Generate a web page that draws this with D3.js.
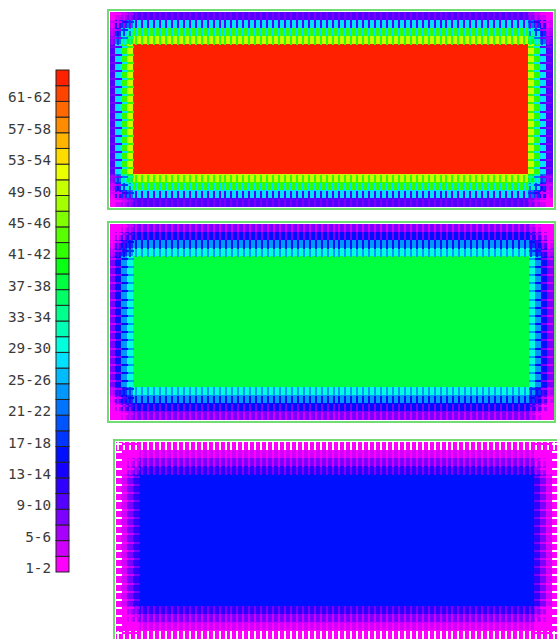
<!DOCTYPE html>
<html><head><meta charset="utf-8">
<script src="https://cdn.jsdelivr.net/npm/d3@7"></script>
<style>body{margin:0;background:#fff;} svg{display:block}</style>
</head><body><svg id="c" width="557" height="639"></svg>
<script>
// ---- data ----
const binLabels = ["1-2","3-4","5-6","7-8","9-10","11-12","13-14","15-16","17-18","19-20","21-22","23-24","25-26","27-28","29-30","31-32","33-34","35-36","37-38","39-40","41-42","43-44","45-46","47-48","49-50","51-52","53-54","55-56","57-58","59-60","61-62","63-64"];
const binColors = ["#ff00ff","#d000ff","#a800ff","#7c00ff","#5400ff","#3000ff","#1400ff","#0010ff","#0034ff","#0054ff","#0074ff","#0098ff","#00bcff","#00e0ff","#00ffdc","#00ffb4","#00ff8c","#00ff64","#00ff40","#08ff14","#30ff00","#58ff00","#80ff00","#a4ff00","#c8ff00","#ecff00","#ffdc00","#ffb400","#ff8c00","#ff6800","#ff4400","#ff2000"];
const shownLabels = ["1-2","5-6","9-10","13-14","17-18","21-22","25-26","29-30","33-34","37-38","41-42","45-46","49-50","53-54","57-58","61-62"];
const binThresholds = [3,5,7,9,11,13,15,17,19,21,23,25,27,29,31,33,35,37,39,41,43,45,47,49,51,53,55,57,59,61,63];
// edge-ring values: [outside, ring1, ring2, ring3, ring4, plateau]
const panel1Ring = [7, 10, 27, 42, 50, 63];
const panel2Ring = [4, 7, 15, 24, 30, 38];
const panel3Ring = [0.5, 1.5, 4, 7, 11, 15];
const panelCols = 74, panelRows = 24;

// ---- layout ----
const svg = d3.select("#c");
const color = d3.scaleThreshold().domain(binThresholds).range(binColors);

// legend
const ly = d3.scaleBand().domain(binLabels.slice().reverse()).range([70, 572]);
const leg = svg.append("g");
leg.selectAll("rect").data(binLabels).join("rect")
  .attr("x", 56).attr("y", d => ly(d)).attr("width", 13).attr("height", ly.bandwidth())
  .attr("fill", (d, i) => binColors[i]).attr("stroke", "#222").attr("stroke-width", 1);
leg.selectAll("text").data(shownLabels).join("text")
  .attr("x", 51).attr("y", d => ly(d) + ly.bandwidth() - 4)
  .attr("text-anchor", "end").attr("dominant-baseline", "central")
  .attr("font-family", "DejaVu Sans Mono, monospace").attr("font-size", 14.3)
  .attr("fill", "#3a3a3a").text(d => d);

function drawPanel(ring, box, frame) {
  const g = svg.append("g").attr("shape-rendering", "crispEdges");
  const P = ring.length - 1;
  const x = d3.scaleBand().domain(d3.range(panelCols)).range([box.x0, box.x1]);
  const y = d3.scaleBand().domain(d3.range(panelRows)).range([box.y0, box.y1]);
  const ringIdx = (i, n) => Math.min(P, 1 + Math.min(i, n - 1 - i));
  const val = (a, b) => ring[a] * ring[b] / ring[P];
  const stripeColor = (a, b) => ((a === 0 || b === 0) && ring[0] < 1) ? "#ffffff" : color(Math.max(1, val(a, b)));
  const cells = [];
  for (let i = 0; i < panelCols; i++) for (let j = 0; j < panelRows; j++) {
    cells.push({i, j, a: ringIdx(i, panelCols), b: ringIdx(j, panelRows)});
  }
  g.selectAll("rect.cell").data(cells).join("rect").attr("class", "cell")
    .attr("x", d => Math.floor(x(d.i))).attr("y", d => Math.floor(y(d.j)))
    .attr("width", x.bandwidth() + 1).attr("height", y.bandwidth() + 1)
    .attr("fill", d => color(Math.max(1, val(d.a, d.b))));
  g.selectAll("rect.vs").data(cells.filter(d => d.b < P)).join("rect").attr("class", "vs")
    .attr("x", d => x(d.i) + 1).attr("y", d => y(d.j))
    .attr("width", 2).attr("height", y.bandwidth())
    .attr("fill", d => stripeColor(d.a, d.b - 1));
  g.selectAll("rect.hs").data(cells.filter(d => d.a < P)).join("rect").attr("class", "hs")
    .attr("x", d => x(d.i)).attr("y", d => y(d.j) + 1)
    .attr("width", x.bandwidth()).attr("height", 2)
    .attr("fill", d => stripeColor(d.a - 1, d.b));
  g.append("rect").attr("x", frame.x).attr("y", frame.y).attr("width", frame.w).attr("height", frame.h)
    .attr("fill", "none").attr("stroke", "#72dc72").attr("stroke-width", 2);
}

drawPanel(panel1Ring, {x0: 110, x1: 552, y0: 12, y1: 207}, {x: 108, y: 10, w: 447, h: 199});
drawPanel(panel2Ring, {x0: 110, x1: 553, y0: 224, y1: 420}, {x: 108, y: 222, w: 447, h: 200});
drawPanel(panel3Ring, {x0: 116, x1: 558, y0: 442, y1: 639}, {x: 114, y: 440, w: 447, h: 202});
</script></body></html>
